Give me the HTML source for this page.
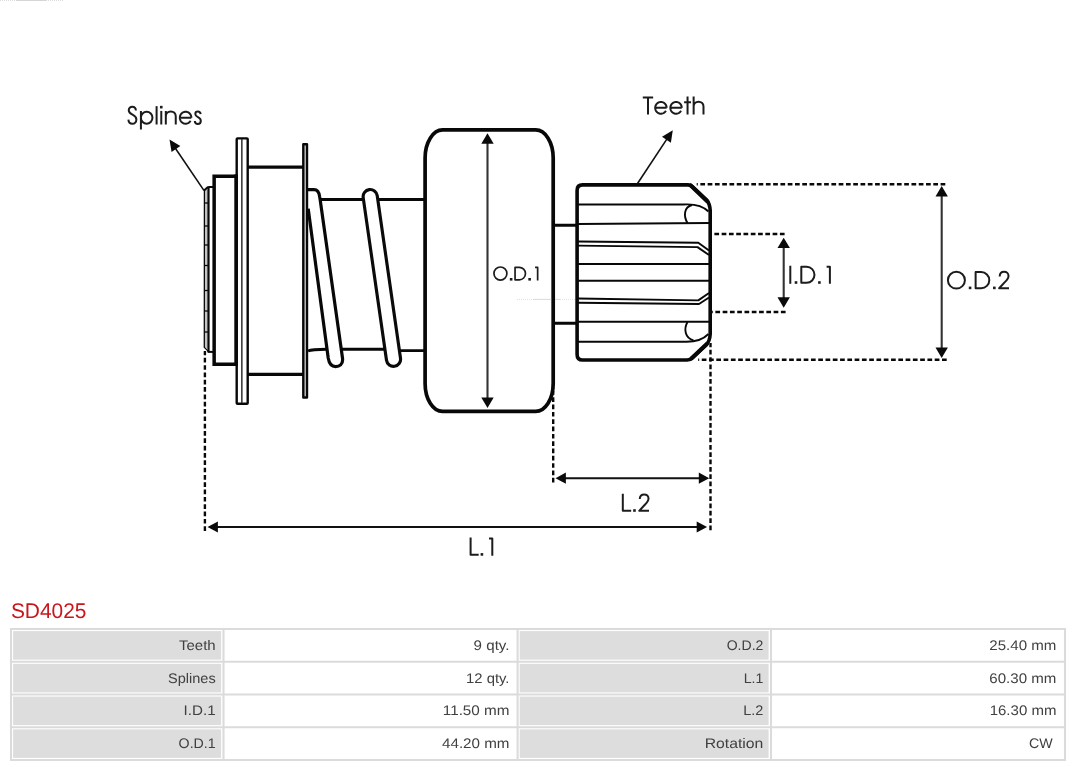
<!DOCTYPE html>
<html><head><meta charset="utf-8"><title>SD4025</title>
<style>
html,body{margin:0;padding:0;background:#fff;}
body{width:1080px;height:767px;overflow:hidden;font-family:"Liberation Sans",sans-serif;}
svg{display:block;font-family:"Liberation Sans",sans-serif;will-change:transform;}
text{text-rendering:geometricPrecision;}
</style></head><body>
<svg width="1080" height="767" viewBox="0 0 1080 767">
<rect width="1080" height="767" fill="#fff"/>
<g fill="none" stroke="#080808" stroke-linejoin="round">
<path d="M308,351 C312,349.2 318,349.2 326,349.2 H386 L400,350.6 H425" stroke-width="2.9"/>
<path d="M320,199.5 H425" stroke-width="2.9"/>
<line x1="370.2" y1="196.6" x2="393.5" y2="359.3" stroke="#0a0a0a" stroke-width="17.3" stroke-linecap="round"/>
<line x1="370.2" y1="196.6" x2="393.5" y2="359.3" stroke="#fff" stroke-width="11.0" stroke-linecap="round"/>
<path d="M306.5,189.6 H314 C317.5,189.6 319.2,192.5 319.7,197 L320.2,200 L342.5,358 C343.4,365 339,366.6 335.6,366.6 C332,366.6 329.2,364 328.2,358 L308.2,208.6 Z" fill="#fff" stroke="none"/>
<path d="M306.5,189.6 H314 C317.5,189.6 319.2,192.5 319.7,197 L320.2,200 L342.5,358 C343.4,365 339,366.6 335.6,366.6 C332,366.6 329.2,364 328.2,358 L308.2,208.6" stroke-width="3.2"/>
<path d="M247,167.05 H303 M247,374.4 H303" stroke-width="3.2"/>
<rect x="303.35" y="144.2" width="3.6" height="253.3" fill="#fff" stroke-width="2.5"/>
<rect x="236.7" y="138.4" width="11.0" height="265.4" rx="0.8" fill="#fff" stroke-width="2.4"/>
<line x1="236.1" y1="174.4" x2="236.1" y2="366" stroke-width="3.6"/>
<line x1="241.85" y1="139" x2="241.85" y2="403" stroke="#303030" stroke-width="1.5"/>
<path d="M236,176.2 H214.15 V364.2 H236" stroke-width="3.5" stroke-linejoin="miter"/>
<rect x="204.8" y="190" width="3" height="158.5" fill="#c4c4c4" stroke="none"/>
<path d="M204.4,190.5 L204.3,347.4 L208.6,351.6" stroke-width="1.3"/>
<path d="M207.6,351.9 H213" stroke-width="2"/>
<path d="M203.8,190.7 L207.4,187.4 Q208.2,186.9 209.2,186.9 H213" stroke-width="2.0"/>
<line x1="208.5" y1="187" x2="208.5" y2="352" stroke-width="2.2"/>
<line x1="204" y1="203" x2="208.5" y2="203" stroke-width="1.3"/>
<line x1="204" y1="226" x2="208.5" y2="226" stroke-width="1.3"/>
<line x1="204" y1="245" x2="208.5" y2="245" stroke-width="1.3"/>
<line x1="204" y1="265.5" x2="208.5" y2="265.5" stroke-width="1.3"/>
<line x1="204" y1="290.5" x2="208.5" y2="290.5" stroke-width="1.3"/>
<line x1="204" y1="311" x2="208.5" y2="311" stroke-width="1.3"/>
<line x1="204" y1="332" x2="208.5" y2="332" stroke-width="1.3"/>
<rect x="425.1" y="129.95" width="128.1" height="281.5" rx="17.5" ry="28" fill="#fff" stroke-width="3.7"/>
<path d="M553,225.2 H578 M553,323.3 H578" stroke-width="3.1"/>
<path d="M582.6,184.9 H688 Q690.4,184.9 692,186.3 L706.4,199.8 Q709.8,203.5 710.2,210.5 V334 Q709.8,341 706.4,344.6 L692.6,357.7 Q690.6,359.9 687,360.05 H582.6 Q577.1,360.05 577.1,354.5 V190.4 Q577.1,184.9 582.6,184.9 Z" fill="#fff" stroke-width="3.6"/>
<path d="M690.8,185.4 L707.2,201.2 M691.6,358.2 L706.8,344" stroke-width="4.1" stroke-linecap="round"/>
<g stroke-width="1.9">
<path d="M578,204.5 H683 C695,203.6 703,206 708.5,211.5"/>
<path d="M692,205 C684,207 683.3,216 687.5,223"/>
<path d="M578,224 L709,223"/>
<path d="M578,241.5 L698.3,242.8 L709,250.5"/>
<path d="M578,245.6 L697.5,247.1 L709,255"/>
<path d="M578,264 H709"/>
<path d="M578,280.8 H709"/>
<path d="M578,298.5 L698.3,300.4 L709,293"/>
<path d="M578,302.7 L699,304 L709,297.5"/>
<path d="M578,321.7 H709"/>
<path d="M578,341.7 H683 C695,342.5 703,339.5 708.5,334"/>
<path d="M687.5,322 C683.5,329 685,338 693.5,340.3"/>
</g>
</g>
<path d="M517,299.4 H533 M560,299.4 H575.5" stroke="#d8d8d8" stroke-width="0.8" stroke-dasharray="1 1"/>
<path d="M533,299.4 H551.2 M555,299.4 H560" stroke="#d0d0d0" stroke-width="0.8"/>
<line x1="0" y1="0.4" x2="64" y2="0.4" stroke="#d4d4d4" stroke-width="0.9" stroke-dasharray="1 1"/>
<line x1="16" y1="0.4" x2="46" y2="0.4" stroke="#cfcfcf" stroke-width="0.9"/>
<g fill="none" stroke="#080808" stroke-width="2.4" stroke-dasharray="4.7 2.58">
<path d="M945.3,184.3 H696.7"/>
<path d="M946.7,359.7 H698.2"/>
<path d="M784.6,234.05 H713.8"/>
<path d="M785.6,312 H711"/>
</g>
<g fill="none" stroke="#080808" stroke-width="2.4" stroke-dasharray="4.7 2.62">
<path d="M204.9,530.9 V351"/>
<path d="M553.2,482.5 V391"/>
<path d="M710.5,530.2 V343"/>
</g>
<g stroke="#333" stroke-width="2.1" fill="none">
<line x1="487.5" y1="140" x2="487.5" y2="401"/>
<line x1="783.7" y1="244" x2="783.7" y2="301"/>
<line x1="941.7" y1="192" x2="941.7" y2="352"/>
<line x1="562" y1="478.2" x2="703" y2="478.2" stroke="#111"/>
<line x1="214" y1="527" x2="701" y2="527" stroke="#111"/>
<line x1="203.9" y1="190.4" x2="174" y2="146.2" stroke="#111" stroke-width="1.6"/>
<line x1="637.2" y1="184" x2="668" y2="137.4" stroke="#111" stroke-width="1.6"/>
</g>
<polygon points="487.50,133.30 493.70,143.70 481.30,143.70" fill="#0a0a0a"/>
<polygon points="487.50,408.00 481.30,397.60 493.70,397.60" fill="#0a0a0a"/>
<polygon points="783.70,237.70 789.90,248.10 777.50,248.10" fill="#0a0a0a"/>
<polygon points="783.70,307.70 777.50,297.30 789.90,297.30" fill="#0a0a0a"/>
<polygon points="941.70,186.00 947.90,196.40 935.50,196.40" fill="#0a0a0a"/>
<polygon points="941.70,357.90 935.50,347.50 947.90,347.50" fill="#0a0a0a"/>
<polygon points="555.50,478.20 565.90,472.60 565.90,483.80" fill="#0a0a0a"/>
<polygon points="709.20,478.20 698.80,483.80 698.80,472.60" fill="#0a0a0a"/>
<polygon points="207.50,527.00 217.90,521.40 217.90,532.60" fill="#0a0a0a"/>
<polygon points="707.10,527.00 696.70,532.60 696.70,521.40" fill="#0a0a0a"/>
<polygon points="169.50,139.50 180.33,146.06 171.55,152.00" fill="#0a0a0a"/>
<polygon points="672.80,130.20 670.87,142.72 662.03,136.87" fill="#0a0a0a"/>
<g transform="translate(126.54,124.5) scale(0.02389,-0.02480)" fill="none" stroke="#1c1c1c" stroke-width="2.0" stroke-linejoin="round">
<path transform="translate(0,0)" d="M392,565 C385,655 320,713 240,713 C155,713 92,655 92,572 C92,480 160,437 250,395 C345,350 412,300 412,205 C412,100 340,27 245,27 C150,27 85,95 78,195" vector-effect="non-scaling-stroke"/>
<path transform="translate(490,0)" d="M112,547 V-200 M112,273 A241,241 0 1 0 594,273 A241,241 0 1 0 112,273 Z" vector-effect="non-scaling-stroke"/>
<path transform="translate(1160,0)" d="M98,0 V740" vector-effect="non-scaling-stroke"/>
<path transform="translate(1356,0)" d="M98,0 V547" vector-effect="non-scaling-stroke"/>
<rect x="1399.6" y="647.6" width="108.8" height="104.8" fill="#1c1c1c" stroke="none"/>
<path transform="translate(1552,0)" d="M92,0 V547 M92,330 C92,450 180,527 300,527 C420,527 508,450 508,330 V0" vector-effect="non-scaling-stroke"/>
<path transform="translate(2152,0)" d="M79,273 H561 M561.0,273.0 L559.3,301.8 L554.1,330.3 L545.6,357.9 L533.8,384.3 L518.9,409.1 L501.2,431.9 L480.9,452.4 L458.2,470.4 L433.6,485.5 L407.3,497.6 L379.8,506.5 L351.5,511.9 L322.6,514.0 L293.8,512.6 L265.3,507.7 L237.6,499.5 L211.1,488.0 L186.1,473.4 L163.1,455.9 L142.3,435.8 L124.1,413.4 L108.7,388.9 L96.4,362.8 L87.2,335.4 L81.4,307.1 L79.1,278.3 L80.2,249.4 L84.7,220.8 L92.6,193.0 L103.9,166.4 L118.2,141.3 L135.4,118.1 L155.3,97.1 L177.5,78.6 L201.8,63.0 L227.8,50.3 L255.1,40.9 L283.3,34.8 L312.1,32.1 L341.0,32.9 L369.6,37.2 L397.5,44.8 L424.2,55.7 L449.5,69.7 L472.9,86.7 L494.1,106.3 L512.8,128.4 L528.7,152.5" vector-effect="non-scaling-stroke"/>
<path transform="translate(2792,0)" d="M310,415 C303,480 255,525 195,525 C130,525 86,482 86,425 C86,360 135,330 197,300 C265,268 316,235 316,155 C316,80 262,22 192,22 C122,22 70,72 64,142" vector-effect="non-scaling-stroke"/>
</g>
<g transform="translate(643.39,114.5) scale(0.02368,-0.02440)" fill="none" stroke="#1c1c1c" stroke-width="2.0" stroke-linejoin="round">
<path transform="translate(0,0)" d="M-25,700 H412 M195,700 V0" vector-effect="non-scaling-stroke"/>
<path transform="translate(420,0)" d="M79,273 H561 M561.0,273.0 L559.3,301.8 L554.1,330.3 L545.6,357.9 L533.8,384.3 L518.9,409.1 L501.2,431.9 L480.9,452.4 L458.2,470.4 L433.6,485.5 L407.3,497.6 L379.8,506.5 L351.5,511.9 L322.6,514.0 L293.8,512.6 L265.3,507.7 L237.6,499.5 L211.1,488.0 L186.1,473.4 L163.1,455.9 L142.3,435.8 L124.1,413.4 L108.7,388.9 L96.4,362.8 L87.2,335.4 L81.4,307.1 L79.1,278.3 L80.2,249.4 L84.7,220.8 L92.6,193.0 L103.9,166.4 L118.2,141.3 L135.4,118.1 L155.3,97.1 L177.5,78.6 L201.8,63.0 L227.8,50.3 L255.1,40.9 L283.3,34.8 L312.1,32.1 L341.0,32.9 L369.6,37.2 L397.5,44.8 L424.2,55.7 L449.5,69.7 L472.9,86.7 L494.1,106.3 L512.8,128.4 L528.7,152.5" vector-effect="non-scaling-stroke"/>
<path transform="translate(1060,0)" d="M79,273 H561 M561.0,273.0 L559.3,301.8 L554.1,330.3 L545.6,357.9 L533.8,384.3 L518.9,409.1 L501.2,431.9 L480.9,452.4 L458.2,470.4 L433.6,485.5 L407.3,497.6 L379.8,506.5 L351.5,511.9 L322.6,514.0 L293.8,512.6 L265.3,507.7 L237.6,499.5 L211.1,488.0 L186.1,473.4 L163.1,455.9 L142.3,435.8 L124.1,413.4 L108.7,388.9 L96.4,362.8 L87.2,335.4 L81.4,307.1 L79.1,278.3 L80.2,249.4 L84.7,220.8 L92.6,193.0 L103.9,166.4 L118.2,141.3 L135.4,118.1 L155.3,97.1 L177.5,78.6 L201.8,63.0 L227.8,50.3 L255.1,40.9 L283.3,34.8 L312.1,32.1 L341.0,32.9 L369.6,37.2 L397.5,44.8 L424.2,55.7 L449.5,69.7 L472.9,86.7 L494.1,106.3 L512.8,128.4 L528.7,152.5" vector-effect="non-scaling-stroke"/>
<path transform="translate(1700,0)" d="M165,0 V740 M20,507 H312" vector-effect="non-scaling-stroke"/>
<path transform="translate(2030,0)" d="M92,0 V740 M92,330 C92,450 180,527 300,527 C420,527 508,450 508,330 V0" vector-effect="non-scaling-stroke"/>
</g>
<g transform="translate(492.35,280.6) scale(0.01877,-0.01900)" fill="none" stroke="#1c1c1c" stroke-width="1.7" stroke-linejoin="round">
<path transform="translate(0,0)" d="M85,370 A345,345 0 1 0 775,370 A345,345 0 1 0 85,370 Z" vector-effect="non-scaling-stroke"/>
<rect x="932" y="0" width="138.5" height="136.8" fill="#1c1c1c" stroke="none"/>
<path transform="translate(1110,0)" d="M100,40 V700 H325 A330,330 0 0 0 325,40 Z" vector-effect="non-scaling-stroke"/>
<rect x="1917" y="0" width="138.5" height="136.8" fill="#1c1c1c" stroke="none"/>
<path transform="translate(2095,0)" d="M180,700 H318 V0" vector-effect="non-scaling-stroke"/>
</g>
<g transform="translate(787.61,283.8) scale(0.02377,-0.02440)" fill="none" stroke="#1c1c1c" stroke-width="2.0" stroke-linejoin="round">
<path transform="translate(0,0)" d="M113,0 V740" vector-effect="non-scaling-stroke"/>
<rect x="298" y="0" width="109.4" height="106.6" fill="#1c1c1c" stroke="none"/>
<path transform="translate(476,0)" d="M100,40 V700 H325 A330,330 0 0 0 325,40 Z" vector-effect="non-scaling-stroke"/>
<rect x="1283" y="0" width="109.4" height="106.6" fill="#1c1c1c" stroke="none"/>
<path transform="translate(1461,0)" d="M180,700 H318 V0" vector-effect="non-scaling-stroke"/>
</g>
<g transform="translate(945.81,289.2) scale(0.02464,-0.02440)" fill="none" stroke="#1c1c1c" stroke-width="2.0" stroke-linejoin="round">
<path transform="translate(0,0)" d="M85,370 A345,345 0 1 0 775,370 A345,345 0 1 0 85,370 Z" vector-effect="non-scaling-stroke"/>
<rect x="932" y="0" width="105.5" height="106.6" fill="#1c1c1c" stroke="none"/>
<path transform="translate(1110,0)" d="M100,40 V700 H325 A330,330 0 0 0 325,40 Z" vector-effect="non-scaling-stroke"/>
<rect x="1917" y="0" width="105.5" height="106.6" fill="#1c1c1c" stroke="none"/>
<path transform="translate(2095,0)" d="M92,525 C92,640 168,713 272,713 C378,713 450,640 450,545 C450,450 395,385 300,290 L70,40 H470" vector-effect="non-scaling-stroke"/>
</g>
<g transform="translate(620.07,511.8) scale(0.02442,-0.02440)" fill="none" stroke="#1c1c1c" stroke-width="2.0" stroke-linejoin="round">
<path transform="translate(0,0)" d="M112,740 V40 H455" vector-effect="non-scaling-stroke"/>
<rect x="537" y="0" width="106.5" height="106.6" fill="#1c1c1c" stroke="none"/>
<path transform="translate(715,0)" d="M92,525 C92,640 168,713 272,713 C378,713 450,640 450,545 C450,450 395,385 300,290 L70,40 H470" vector-effect="non-scaling-stroke"/>
</g>
<g transform="translate(467.96,555.7) scale(0.02356,-0.02460)" fill="none" stroke="#1c1c1c" stroke-width="2.0" stroke-linejoin="round">
<path transform="translate(0,0)" d="M112,740 V40 H455" vector-effect="non-scaling-stroke"/>
<rect x="537" y="0" width="110.4" height="105.7" fill="#1c1c1c" stroke="none"/>
<path transform="translate(715,0)" d="M180,700 H318 V0" vector-effect="non-scaling-stroke"/>
</g>
<text x="10.9" y="617.8" font-size="21.3" textLength="75.6" lengthAdjust="spacingAndGlyphs" fill="#c8161c">SD4025</text>
<rect x="13.10" y="631.10" width="208.00" height="28.55" fill="#dddddd"/>
<rect x="519.70" y="631.10" width="248.90" height="28.55" fill="#dddddd"/>
<rect x="13.10" y="663.85" width="208.00" height="28.55" fill="#dddddd"/>
<rect x="519.70" y="663.85" width="248.90" height="28.55" fill="#dddddd"/>
<rect x="13.10" y="696.60" width="208.00" height="28.55" fill="#dddddd"/>
<rect x="519.70" y="696.60" width="248.90" height="28.55" fill="#dddddd"/>
<rect x="13.10" y="729.35" width="208.00" height="28.55" fill="#dddddd"/>
<rect x="519.70" y="729.35" width="248.90" height="28.55" fill="#dddddd"/>
<g stroke="#dbdbdb" stroke-width="2.1" fill="none">
<line x1="9.95" y1="629" x2="1066.05" y2="629"/>
<line x1="9.95" y1="661.75" x2="1066.05" y2="661.75"/>
<line x1="9.95" y1="694.5" x2="1066.05" y2="694.5"/>
<line x1="9.95" y1="727.25" x2="1066.05" y2="727.25"/>
<line x1="9.95" y1="760" x2="1066.05" y2="760"/>
<line x1="11" y1="629" x2="11" y2="760"/>
<line x1="223.5" y1="629" x2="223.5" y2="760"/>
<line x1="517.6" y1="629" x2="517.6" y2="760"/>
<line x1="771" y1="629" x2="771" y2="760"/>
<line x1="1065" y1="629" x2="1065" y2="760"/>
</g>
<g font-size="13.9" fill="#404040" text-anchor="end">
<text x="215.7" y="649.8" textLength="36.7" lengthAdjust="spacingAndGlyphs">Teeth</text>
<text x="509.5" y="649.8" textLength="35.9" lengthAdjust="spacingAndGlyphs">9 qty.</text>
<text x="763.4" y="649.8" textLength="36.7" lengthAdjust="spacingAndGlyphs">O.D.2</text>
<text x="1056.4" y="649.8" textLength="67.1" lengthAdjust="spacingAndGlyphs">25.40 mm</text>
<text x="215.7" y="682.5" textLength="47.7" lengthAdjust="spacingAndGlyphs">Splines</text>
<text x="509.5" y="682.5" textLength="43.4" lengthAdjust="spacingAndGlyphs">12 qty.</text>
<text x="763.4" y="682.5" textLength="19.700000000000003" lengthAdjust="spacingAndGlyphs">L.1</text>
<text x="1056.4" y="682.5" textLength="67.1" lengthAdjust="spacingAndGlyphs">60.30 mm</text>
<text x="215.7" y="715.2" textLength="32.1" lengthAdjust="spacingAndGlyphs">I.D.1</text>
<text x="509.5" y="715.2" textLength="66.69999999999999" lengthAdjust="spacingAndGlyphs">11.50 mm</text>
<text x="763.4" y="715.2" textLength="20.1" lengthAdjust="spacingAndGlyphs">L.2</text>
<text x="1056.4" y="715.2" textLength="66.69999999999999" lengthAdjust="spacingAndGlyphs">16.30 mm</text>
<text x="215.7" y="748.0" textLength="37.1" lengthAdjust="spacingAndGlyphs">O.D.1</text>
<text x="509.5" y="748.0" textLength="67.5" lengthAdjust="spacingAndGlyphs">44.20 mm</text>
<text x="763.4" y="748.0" textLength="58.7" lengthAdjust="spacingAndGlyphs">Rotation</text>
<text x="1052.7" y="748.0" textLength="23.700000000000003" lengthAdjust="spacingAndGlyphs">CW</text>
</g>
</svg>
</body></html>
